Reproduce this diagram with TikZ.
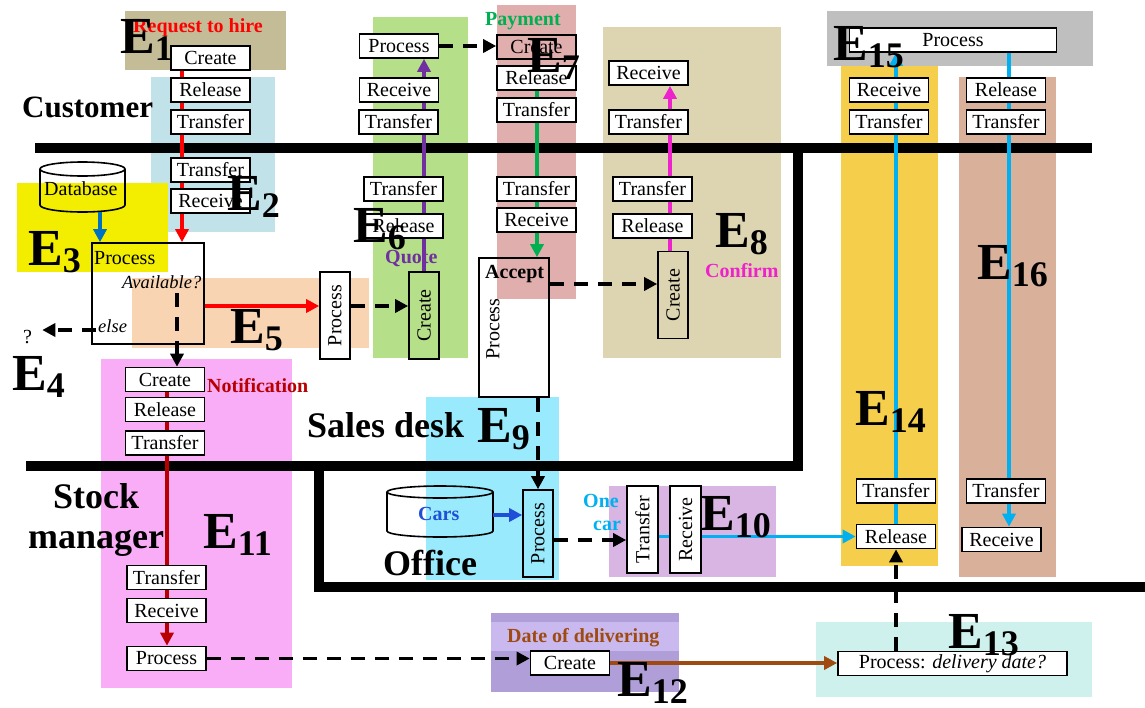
\documentclass[tikz,border=0pt]{standalone}
\usepackage{fontspec}
\setmainfont{Liberation Serif}
\usetikzlibrary{arrows.meta}
\pgfdeclarelayer{back}
\pgfdeclarelayer{bars}
\pgfdeclarelayer{lines}
\pgfdeclarelayer{front}
\pgfsetlayers{back,bars,lines,main,front}
\newcommand{\myfs}[1]{\fontsize{#1}{#1}\selectfont}
\newcommand{\Elab}[1]{{\myfs{52}\bfseries E}{\myfs{36}\bfseries\raisebox{-7pt}{#1}}}
\definecolor{eonecol}{HTML}{C4BC97}
\definecolor{etwocol}{HTML}{C2E2EA}
\definecolor{ethreecol}{HTML}{F3EE00}
\definecolor{efivecol}{HTML}{F9D4B3}
\definecolor{esixcol}{HTML}{B5DF88}
\definecolor{esevencol}{HTML}{E1AEAE}
\definecolor{eeightcol}{HTML}{DDD5B1}
\definecolor{eninecol}{HTML}{99EAFC}
\definecolor{etencol}{HTML}{D8B5E2}
\definecolor{eelevencol}{HTML}{F9ADF7}
\definecolor{etwelvel}{HTML}{C9B9EF}
\definecolor{etwelved}{HTML}{B09ED8}
\definecolor{ethirteencol}{HTML}{CFF1EE}
\definecolor{efourteencol}{HTML}{F5CE4B}
\definecolor{efifteencol}{HTML}{BFBFBF}
\definecolor{esixteencol}{HTML}{D9B19B}
\definecolor{dbblue}{HTML}{0070C0}
\definecolor{purp}{HTML}{7030A0}
\definecolor{grn}{HTML}{00B050}
\definecolor{mag}{HTML}{EE22CC}
\definecolor{dred}{HTML}{B80000}
\definecolor{carsblue}{HTML}{1F4FD8}
\definecolor{cyanc}{HTML}{00B0F0}
\definecolor{brn}{HTML}{9E4A10}
\begin{document}
\begin{tikzpicture}[x=1pt,y=-1pt,
  bx/.style={draw=black, line width=1.6pt, fill=white, minimum width=79pt, minimum height=24pt, inner sep=0pt, font=\myfs{20}},
  vbx/.style={bx, minimum width=30pt, minimum height=87pt},
  bar/.style={line width=10pt, black},
  arr/.style={line width=3.6pt, -{Triangle[length=13pt,width=13pt]}},
  dsh/.style={line width=3.5pt, black, dash pattern=on 14pt off 10pt, -{Triangle[length=13pt,width=13pt]}},
  tl/.style={inner sep=0pt, anchor=base west, font=\myfs{20}\bfseries},
  big/.style={inner sep=0pt, anchor=base west, font=\myfs{36}\bfseries},
  el/.style={inner sep=0pt, anchor=base west},
  plain/.style={inner sep=0pt, anchor=base west, font=\myfs{20}}
]
\useasboundingbox (0,0) rectangle (1145,707);

% ---------- nodes ----------
% Customer column (E1, E2)
\node[bx] (cr1) at (210.5,58) {Create};
\node[bx] (rl1) at (210.5,90) {Release};
\node[bx] (tf1) at (210.5,122) {Transfer};
\node[bx] (tf2) at (210.5,170) {Transfer};
\node[bx] (rc2) at (210.5,201) {Receive};
% big process box (E3/E5)
\node[bx, fill=none, minimum width=112pt, minimum height=101pt] (bp) at (148,293.5) {};
\node[plain] (bptxt) at (94,264) {Process};
\node[plain, font=\myfs{18.5}\itshape] (avl) at (122,288) {Available?};
\node[plain, font=\myfs{18.5}\itshape] (els) at (98,332) {else};
\node[plain] (q) at (23,343) {?};
\node[plain] (db) at (44,195) {Database};
% E11
\node[bx] (cr11) at (165,379.5) {Create};
\node[bx] (rl11) at (165,409.5) {Release};
\node[bx] (tf11) at (165,443) {Transfer};
\node[bx] (tf11b) at (166.5,577.5) {Transfer};
\node[bx] (rc11) at (166.5,610.5) {Receive};
\node[bx] (pr11) at (166.5,658.5) {Process};
% E5, E6
\node[vbx] (p5) at (335,315.5) {\rotatebox{90}{Process}};
\node[vbx, fill=none] (c6) at (424,315.5) {\rotatebox{90}{Create}};
\node[bx] (p6) at (399,46) {Process};
\node[bx] (rc6) at (399,90) {Receive};
\node[bx] (tf6) at (398.5,122) {Transfer};
\node[bx] (tf6b) at (403.5,189) {Transfer};
\node[bx] (rl6b) at (403.5,226) {Release};
% E7
\node[bx, fill=none] (cr7) at (536.5,47) {Create};
\node[bx] (rl7) at (536.5,78) {Release};
\node[bx] (tf7) at (536.5,110) {Transfer};
\node[bx] (tf7b) at (536.5,189) {Transfer};
\node[bx] (rc7) at (536.5,220) {Receive};
% Accept / Process
\node[bx, fill=none, minimum width=70pt, minimum height=139pt] (ap) at (514,327.5) {};
\node[tl] (acc) at (485,278) {Accept};
\node[inner sep=0pt, font=\myfs{20}] (aptx) at (493,329) {\rotatebox{90}{Process}};
% E8
\node[bx] (rc8) at (648.5,73) {Receive};
\node[bx] (tf8) at (648.5,122) {Transfer};
\node[bx] (tf8b) at (652.5,189) {Transfer};
\node[bx] (rl8) at (652.5,226) {Release};
\node[vbx, fill=none] (c8) at (673,295) {\rotatebox{90}{Create}};
% E9, E10
\node[vbx, fill=none] (p9) at (538,533.5) {\rotatebox{90}{Process}};
\node[tl, text=carsblue] (cars) at (418,520) {Cars};
\node[vbx, minimum width=31pt] (tr10) at (642.5,529.5) {\rotatebox{90}{Transfer}};
\node[vbx, minimum width=31pt] (rc10) at (685.5,529.5) {\rotatebox{90}{Receive}};
% E14, E15, E16
\node[bx] (rc14) at (889,90) {Receive};
\node[bx] (tf14) at (889,122) {Transfer};
\node[bx] (tf14b) at (896,491) {Transfer};
\node[bx] (rl14) at (896,536.5) {Release};
\node[bx, minimum width=207pt] (p15) at (953,40) {Process};
\node[bx] (rl16) at (1006,90) {Release};
\node[bx] (tf16) at (1006,122) {Transfer};
\node[bx] (tf16b) at (1006,491) {Transfer};
\node[bx] (rc16) at (1001.5,539.5) {Receive};
% E12, E13
\node[bx] (cr12) at (570,663) {Create};
\node[bx, minimum width=229pt] (p13) at (952.5,663.5) {Process: \textit{delivery date?}};

% ---------- backgrounds ----------
\begin{pgfonlayer}{back}
\fill[eonecol] (125,11) rectangle (286,70);
\fill[etwocol] (151,77) rectangle (275,232);
\fill[ethreecol] (17,183) rectangle (168,272);
\fill[efivecol] (132,278) rectangle (369,348);
\fill[esixcol] (373,17) rectangle (468,358);
\fill[esevencol] (497,5) rectangle (576,299);
\fill[eeightcol] (603,27) rectangle (781,358);
\fill[eninecol] (426,397) rectangle (559,580);
\fill[etencol] (609,486) rectangle (776,577);
\fill[eelevencol] (101,359) rectangle (292,688);
\fill[etwelved] (491,613) rectangle (679,692);
\fill[etwelvel] (491,622) rectangle (679,651);
\fill[ethirteencol] (816,622) rectangle (1092,697);
\fill[efourteencol] (841,66) rectangle (938,566);
\fill[efifteencol] (827,11) rectangle (1093,66);
\fill[esixteencol] (959,77) rectangle (1056,577);
\end{pgfonlayer}

% ---------- lane bars and databases ----------
\begin{pgfonlayer}{bars}
\draw[bar] (35,148) -- (1092,148);
\draw[bar] (798,143) -- (798,471);
\draw[bar] (26,466) -- (803,466);
\draw[bar] (319,461) -- (319,587) -- (1145,587);
% Database cylinder
\draw[line width=1.6pt] (40,169) -- (40,205) arc[start angle=180, end angle=360, x radius=42.5pt, y radius=7pt] -- (125,169);
\draw[line width=1.6pt] (82.5,169) circle[x radius=42.5pt, y radius=7pt];
% Cars cylinder
\draw[line width=1.6pt] (387,492) -- (387,531) arc[start angle=180, end angle=360, x radius=53pt, y radius=6pt] -- (493,492);
\draw[line width=1.6pt] (440,492) circle[x radius=53pt, y radius=6pt];
\end{pgfonlayer}

% ---------- solid coloured connectors ----------
\begin{pgfonlayer}{lines}
\coordinate (r1) at (182,58);
\draw[arr, red] (r1) -- (r1 |- bp.north);
\draw[arr, red] ([yshift=-12.5pt]bp.east) -- ([yshift=-12.5pt]bp.east -| p5.west);
\coordinate (b3) at (100,212);
\draw[arr, dbblue] (b3) -- (b3 |- bp.north);
\draw[arr, purp] (c6.north) -- (c6.north |- p6.south);
\coordinate (g7) at (537,78);
\draw[arr, grn] (g7) -- (g7 |- ap.north);
\coordinate (m8) at (670,295);
\draw[arr, mag] (m8 |- c8.north) -- (m8 |- rc8.south);
\coordinate (d11) at (167,380);
\draw[arr, dred] (d11) -- (d11 |- pr11.north);
\coordinate (carsR) at (493,515);
\draw[arr, carsblue] (carsR) -- (carsR -| p9.west);
\draw[arr, cyanc] (tr10.center |- rl14.west) -- (rl14.west);
\draw[arr, cyanc] (rl14.north) -- (rl14.north |- p15.south);
\coordinate (c16) at (1009,40);
\draw[arr, cyanc] (c16) -- (c16 |- rc16.north);
\draw[arr, brn] (cr12.east) -- (cr12.east -| p13.west);
\end{pgfonlayer}

% ---------- dashed connectors and labels ----------
\begin{pgfonlayer}{front}
\draw[dsh] (p6.east) -- (p6.east -| cr7.west);
\draw[dsh] ([yshift=9.5pt]p5.east) -- ([yshift=9.5pt]p5.east -| c6.west);
\coordinate (avail) at (177,293);
\draw[dsh] (avail) -- (avail |- cr11.north);
\coordinate (elsp) at (96,330);
\draw[dsh] (elsp) -- ([xshift=10pt]q.east |- elsp);
\draw[dsh] ([yshift=43.5pt]ap.east) -- ([yshift=43.5pt]ap.east -| c8.west);
\draw[dsh] (ap.south -| p9.north) -- (p9.north);
\draw[dsh] ([yshift=-6.5pt]p9.east) -- ([yshift=-6.5pt]p9.east -| tr10.west);
\draw[dsh] (pr11.east) -- (pr11.east -| cr12.west);
\draw[dsh] (p13.north -| rl14.south) -- (rl14.south);

\node[tl, text=red] (req) at (133,32) {Request to hire};
\node[tl, text=grn] (pay) at (485,25) {Payment};
\node[tl, text=purp] (quo) at (385,263) {Quote};
\node[tl, text=mag] (conf) at (705,277) {Confirm};
\node[tl, text=dred] (noti) at (207,392) {Notification};
\node[tl, text=cyanc] (one) at (583,507) {One};
\node[tl, text=cyanc] (car) at (593,530) {car};
\node[tl, text=brn] (dod) at (507,642) {Date of delivering};

\node[big, font=\myfs{31}\bfseries] (cust) at (22,117) {Customer};
\node[big] (sd) at (307,437) {Sales desk};
\node[big] (stk) at (53,508) {Stock};
\node[big] (mgr) at (28,548) {manager};
\node[big] (off) at (383,575) {Office};

\node[el] (E1) at (120,53) {\Elab{1}};
\node[el] (E2) at (227,210) {\Elab{2}};
\node[el] (E3) at (28,265) {\Elab{3}};
\node[el] (E4) at (12,390) {\Elab{4}};
\node[el] (E5) at (230,343) {\Elab{5}};
\node[el] (E6) at (353,242) {\Elab{6}};
\node[el] (E7) at (527,72) {\Elab{7}};
\node[el] (E8) at (715,247) {\Elab{8}};
\node[el] (E9) at (477,442) {\Elab{9}};
\node[el] (E10) at (700,530) {\Elab{10}};
\node[el] (E11) at (203,548) {\Elab{11}};
\node[el] (E12) at (617,696) {\Elab{12}};
\node[el] (E13) at (948,648) {\Elab{13}};
\node[el] (E14) at (855,425) {\Elab{14}};
\node[el] (E15) at (833,60) {\Elab{15}};
\node[el] (E16) at (977,279) {\Elab{16}};
\end{pgfonlayer}
\end{tikzpicture}
\end{document}
